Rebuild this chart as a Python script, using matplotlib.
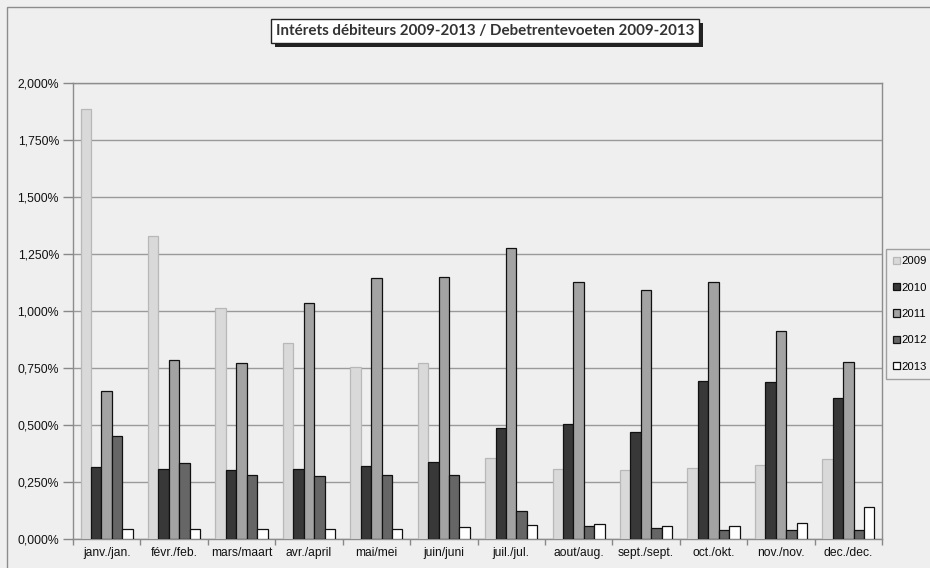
import numpy as np
import matplotlib
matplotlib.use("Agg")
import matplotlib.pyplot as plt
from matplotlib.patches import Rectangle
from matplotlib.ticker import FixedLocator, FuncFormatter

# Monthly debit interest rates (%) per year
months = ["janv./jan.", "févr./feb.", "mars/maart", "avr./april", "mai/mei",
          "juin/juni", "juil./jul.", "aout/aug.", "sept./sept.", "oct./okt.",
          "nov./nov.", "dec./dec."]
years = ["2009", "2010", "2011", "2012", "2013"]

rates_2009 = [1.886, 1.330, 1.012, 0.860, 0.753, 0.772, 0.354, 0.308, 0.301, 0.311, 0.326, 0.351]
rates_2010 = [0.317, 0.306, 0.303, 0.307, 0.321, 0.336, 0.487, 0.506, 0.469, 0.694, 0.690, 0.618]
rates_2011 = [0.649, 0.786, 0.773, 1.035, 1.143, 1.149, 1.278, 1.127, 1.092, 1.127, 0.912, 0.778]
rates_2012 = [0.452, 0.333, 0.282, 0.278, 0.279, 0.282, 0.121, 0.056, 0.048, 0.041, 0.039, 0.040]
rates_2013 = [0.043, 0.043, 0.043, 0.044, 0.043, 0.054, 0.060, 0.064, 0.058, 0.059, 0.069, 0.139]

y_ticks = [0.0, 0.25, 0.5, 0.75, 1.0, 1.25, 1.5, 1.75, 2.0]

series = [rates_2009, rates_2010, rates_2011, rates_2012, rates_2013]
fills = ["#d9d9d9", "#383838", "#a3a3a3", "#666666", "#ffffff"]
edges = ["#b8b8b8", "#111111", "#111111", "#111111", "#111111"]

plt.rcParams["font.family"] = ["Liberation Sans", "DejaVu Sans"]

W, H = 930, 568
fig = plt.figure(figsize=(W / 100, H / 100), dpi=100)
bg = "#efefef"
fig.patch.set_facecolor(bg)

# outer chart frame
fig.add_artist(Rectangle((7 / W, -0.1), 1.2, 1 - 7 / H + 0.1, transform=fig.transFigure,
                         fill=False, edgecolor="#8c8c8c", linewidth=1.0))

ax = fig.add_axes([73 / W, (H - 539) / H, 809 / W, 456 / H])
ax.set_facecolor("none")

x = np.arange(len(months))
bw = 0.155
for i, (vals, fc, ec) in enumerate(zip(series, fills, edges)):
    ax.bar(x + (i - 2) * bw, vals, width=bw, color=fc, edgecolor=ec,
           linewidth=0.9, label=years[i], zorder=3)

ax.set_xlim(-0.5, len(months) - 0.5)
ax.set_ylim(0, 2.0)

ax.yaxis.set_major_locator(FixedLocator(y_ticks))
ax.yaxis.set_major_formatter(FuncFormatter(lambda v, p: f"{v:.3f}%".replace(".", ",")))
ax.grid(axis="y", color="#9a9a9a", linewidth=1.0, zorder=0)

ax.set_xticks(x)
ax.set_xticklabels(months)
ax.set_xticks(np.arange(-0.5, len(months)), minor=True)
ax.tick_params(axis="x", which="major", length=0, pad=6, labelsize=8.7, colors="#111111")
ax.tick_params(axis="x", which="minor", length=4, color="#888888", width=1)
ax.tick_params(axis="y", length=7, color="#888888", width=1, pad=3,
               labelsize=8.8, labelcolor="#111111")

for s in ["left", "bottom", "right", "top"]:
    ax.spines[s].set_color("#8c8c8c")
    ax.spines[s].set_linewidth(1.0)

# title box with a drop shadow behind it
title = "Intérets débiteurs 2009-2013 / Debetrentevoeten 2009-2013"
t = fig.text(485 / W, 1 - 31 / H, title, color="#333333", ha="center", va="center",
             fontsize=10.9, fontweight="bold", family=["Lato", "DejaVu Sans"], zorder=5,
             bbox=dict(boxstyle="square,pad=0.3", facecolor="white",
                       edgecolor="#222222", linewidth=1.0))
fig.canvas.draw()
bb = t.get_bbox_patch().get_window_extent().transformed(fig.transFigure.inverted())
fig.add_artist(Rectangle((bb.x0 + 4 / W, bb.y0 - 4 / H), bb.width, bb.height,
                         transform=fig.transFigure, facecolor="#222222",
                         edgecolor="none", zorder=4))

leg = fig.legend(loc="upper left", bbox_to_anchor=(886 / W, 1 - 249 / H),
                 fontsize=8.1, handlelength=0.6, handleheight=0.6,
                 handletextpad=0.1, labelspacing=1.45, borderpad=0.65,
                 borderaxespad=0, fancybox=False, frameon=True)
leg.get_frame().set_edgecolor("#8c8c8c")
leg.get_frame().set_facecolor(bg)
leg.get_frame().set_linewidth(1.0)

fig.savefig("out.png", dpi=100, facecolor=fig.get_facecolor())
